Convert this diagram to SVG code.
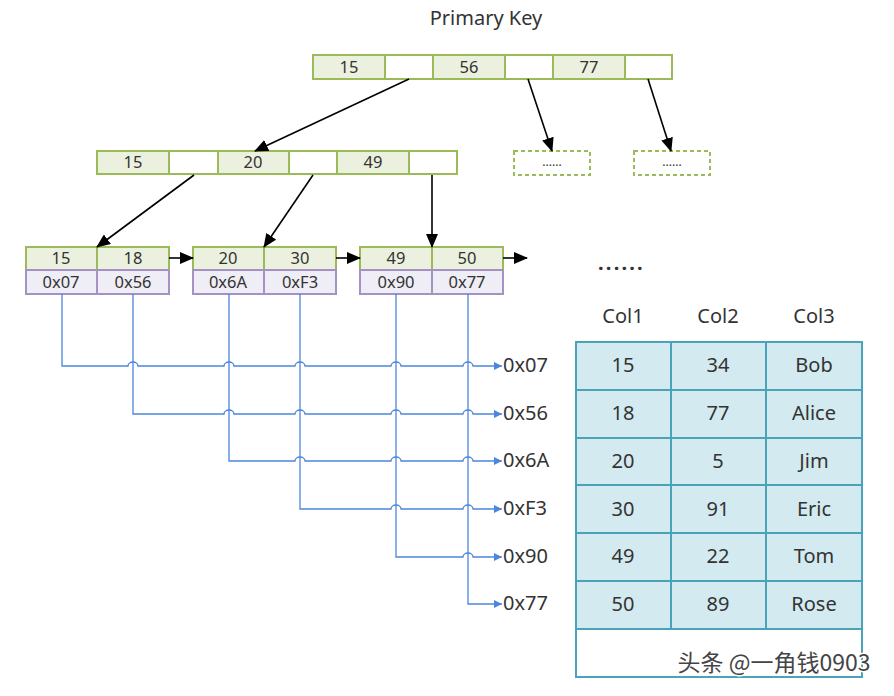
<svg xmlns="http://www.w3.org/2000/svg" width="894" height="696" viewBox="0 0 894 696">
<style>
text{font-family:"Noto Sans","Open Sans","DejaVu Sans",sans-serif;fill:#333;text-anchor:middle;dominant-baseline:central}
.k{fill:#ebf1de;stroke:#9bbb59;stroke-width:2}
.e{fill:#fff;stroke:#9bbb59;stroke-width:2}
.p{fill:#efedf5;stroke:#a592c4;stroke-width:2}
.d{fill:#fff;stroke:#9bbb59;stroke-width:2;stroke-dasharray:4 3}
.t{fill:#d3ebf0;stroke:#4aa3b8;stroke-width:2}
.s{font-size:16.5px}
.m{font-size:20px}
.a{font-size:20px;text-anchor:start}
.bl{fill:none;stroke:#000;stroke-width:1.6}
.bu{fill:none;stroke:#4a86dd;stroke-width:1.3}
</style>
<defs>
<marker id="ah" markerUnits="userSpaceOnUse" markerWidth="14" markerHeight="12" refX="13" refY="6" orient="auto"><path d="M0,0 L14,6 L0,12 z" fill="#000"/></marker>
<marker id="ab" markerUnits="userSpaceOnUse" markerWidth="8" markerHeight="8" refX="8" refY="4" orient="auto"><path d="M0,0 L8,4 L0,8 z" fill="#4a86dd"/></marker>
</defs>
<text x="486" y="17" style="font-size:20px">Primary Key</text>
<g id="root">
<rect class="k" x="313" y="55" width="72" height="24"/><rect class="e" x="385" y="55" width="48" height="24"/>
<rect class="k" x="433" y="55" width="72" height="24"/><rect class="e" x="505" y="55" width="48" height="24"/>
<rect class="k" x="553" y="55" width="72" height="24"/><rect class="e" x="625" y="55" width="47" height="24"/>
<text class="s" x="349" y="66">15</text><text class="s" x="469" y="66">56</text><text class="s" x="589" y="66">77</text>
</g>
<g id="inner">
<rect class="k" x="97" y="151" width="72" height="23"/><rect class="e" x="169" y="151" width="49" height="23"/>
<rect class="k" x="218" y="151" width="71" height="23"/><rect class="e" x="289" y="151" width="48" height="23"/>
<rect class="k" x="337" y="151" width="72" height="23"/><rect class="e" x="409" y="151" width="48" height="23"/>
<text class="s" x="133" y="161">15</text><text class="s" x="253" y="161">20</text><text class="s" x="373" y="161">49</text>
</g>
<g id="more1"><rect class="d" x="514" y="151" width="76" height="24"/><text x="552" y="161" style="font-size:12px">......</text></g>
<g id="more2"><rect class="d" x="634" y="151" width="76" height="24"/><text x="672" y="161" style="font-size:12px">......</text></g>
<g id="leaf1">
<rect class="k" x="26" y="247" width="71" height="23"/><rect class="k" x="97" y="247" width="72" height="23"/>
<rect class="p" x="26" y="270" width="71" height="24"/><rect class="p" x="97" y="270" width="72" height="24"/>
<text class="s" x="61" y="257">15</text><text class="s" x="133" y="257">18</text>
<text class="s" x="61" y="281">0x07</text><text class="s" x="133" y="281">0x56</text>
</g>
<g id="leaf2">
<rect class="k" x="193" y="247" width="71" height="23"/><rect class="k" x="264" y="247" width="72" height="23"/>
<rect class="p" x="193" y="270" width="71" height="24"/><rect class="p" x="264" y="270" width="72" height="24"/>
<text class="s" x="228" y="257">20</text><text class="s" x="300" y="257">30</text>
<text class="s" x="228" y="281">0x6A</text><text class="s" x="300" y="281">0xF3</text>
</g>
<g id="leaf3">
<rect class="k" x="360" y="247" width="72" height="23"/><rect class="k" x="432" y="247" width="71" height="23"/>
<rect class="p" x="360" y="270" width="72" height="24"/><rect class="p" x="432" y="270" width="71" height="24"/>
<text class="s" x="396" y="257">49</text><text class="s" x="467" y="257">50</text>
<text class="s" x="396" y="281">0x90</text><text class="s" x="467" y="281">0x77</text>
</g>
<text x="598" y="262" style="font-size:20px;font-weight:bold;text-anchor:start;letter-spacing:2.2px">......</text>
<g id="connectors">
<path class="bl" d="M409,79 L255,151" marker-end="url(#ah)"/>
<path class="bl" d="M528,79 L552,151" marker-end="url(#ah)"/>
<path class="bl" d="M648,79 L671,151" marker-end="url(#ah)"/>
<path class="bl" d="M194,175 L97,247" marker-end="url(#ah)"/>
<path class="bl" d="M313,175 L264,247" marker-end="url(#ah)"/>
<path class="bl" d="M432,175 L432,247" marker-end="url(#ah)"/>
<path class="bl" d="M169,258 L193,258" marker-end="url(#ah)"/>
<path class="bl" d="M336,258 L360,258" marker-end="url(#ah)"/>
<path class="bl" d="M503,258 L527,258" marker-end="url(#ah)"/>
<path class="bu" d="M62,294 V366 H128 a5,4 0 0 1 10,0 H224 a5,4 0 0 1 10,0 H295 a5,4 0 0 1 10,0 H391 a5,4 0 0 1 10,0 H463 a5,4 0 0 1 10,0 H502" marker-end="url(#ab)"/>
<path class="bu" d="M133,294 V414 H224 a5,4 0 0 1 10,0 H295 a5,4 0 0 1 10,0 H391 a5,4 0 0 1 10,0 H463 a5,4 0 0 1 10,0 H502" marker-end="url(#ab)"/>
<path class="bu" d="M229,294 V461 H295 a5,4 0 0 1 10,0 H391 a5,4 0 0 1 10,0 H463 a5,4 0 0 1 10,0 H502" marker-end="url(#ab)"/>
<path class="bu" d="M300,294 V509 H391 a5,4 0 0 1 10,0 H463 a5,4 0 0 1 10,0 H502" marker-end="url(#ab)"/>
<path class="bu" d="M396,294 V557 H463 a5,4 0 0 1 10,0 H502" marker-end="url(#ab)"/>
<path class="bu" d="M468,294 V604 H502" marker-end="url(#ab)"/>
</g>
<g id="addresses">
<text class="a" x="503" y="364">0x07</text>
<text class="a" x="503" y="412">0x56</text>
<text class="a" x="503" y="459">0x6A</text>
<text class="a" x="503" y="507">0xF3</text>
<text class="a" x="503" y="555">0x90</text>
<text class="a" x="503" y="602">0x77</text>
</g>
<g id="table">
<text class="m" x="623" y="315">Col1</text><text class="m" x="718" y="315">Col2</text><text class="m" x="814" y="315">Col3</text>
<rect x="576" y="342" width="286" height="335" fill="#fff" stroke="#4aa3b8" stroke-width="2"/>
<g>
<rect class="t" x="576" y="342" width="95" height="48"/><rect class="t" x="671" y="342" width="95" height="48"/><rect class="t" x="766" y="342" width="96" height="48"/>
<rect class="t" x="576" y="390" width="95" height="48"/><rect class="t" x="671" y="390" width="95" height="48"/><rect class="t" x="766" y="390" width="96" height="48"/>
<rect class="t" x="576" y="438" width="95" height="47"/><rect class="t" x="671" y="438" width="95" height="47"/><rect class="t" x="766" y="438" width="96" height="47"/>
<rect class="t" x="576" y="485" width="95" height="48"/><rect class="t" x="671" y="485" width="95" height="48"/><rect class="t" x="766" y="485" width="96" height="48"/>
<rect class="t" x="576" y="533" width="95" height="48"/><rect class="t" x="671" y="533" width="95" height="48"/><rect class="t" x="766" y="533" width="96" height="48"/>
<rect class="t" x="576" y="581" width="95" height="48"/><rect class="t" x="671" y="581" width="95" height="48"/><rect class="t" x="766" y="581" width="96" height="48"/>
</g>
<text class="m" x="623" y="364">15</text><text class="m" x="718" y="364">34</text><text class="m" x="814" y="364">Bob</text>
<text class="m" x="623" y="412">18</text><text class="m" x="718" y="412">77</text><text class="m" x="814" y="412">Alice</text>
<text class="m" x="623" y="460">20</text><text class="m" x="718" y="460">5</text><text class="m" x="814" y="460">Jim</text>
<text class="m" x="623" y="508">30</text><text class="m" x="718" y="508">91</text><text class="m" x="814" y="508">Eric</text>
<text class="m" x="623" y="555">49</text><text class="m" x="718" y="555">22</text><text class="m" x="814" y="555">Tom</text>
<text class="m" x="623" y="603">50</text><text class="m" x="718" y="603">89</text><text class="m" x="814" y="603">Rose</text>
</g>
<text x="774" y="661" style="font-family:'Noto Sans CJK SC','Noto Sans',sans-serif;font-size:23px;fill:#444;stroke:#fff;stroke-width:3;paint-order:stroke">头条 @一角钱0903</text>
</svg>
